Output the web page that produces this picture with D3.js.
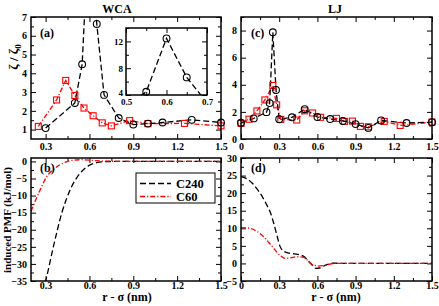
<!DOCTYPE html>
<html>
<head>
<meta charset="utf-8">
<script src="https://cdn.jsdelivr.net/npm/d3@7"></script>
<style>
  body { margin: 0; background: #fff; }
  text { font-family: "Liberation Serif", "Times New Roman", serif; font-weight: bold; }
</style>
</head>
<body>
<svg id="chart" width="439" height="306"></svg>
<script>
// friction ratio, WCA
var wcaC240X = [0.3, 0.5, 0.55, 0.6, 0.65, 0.7, 0.8, 0.9, 1.0, 1.1, 1.3, 1.5];
var wcaC240Y = [1.08, 2.42, 4.48, 12.45, 6.63, 2.85, 1.62, 1.27, 1.32, 1.38, 1.52, 1.38];
var wcaC60X = [0.25, 0.375, 0.4375, 0.5, 0.5625, 0.625, 0.6875, 0.75, 0.875, 1.0, 1.25, 1.5];
var wcaC60Y = [1.17, 2.58, 3.62, 2.82, 2.15, 1.74, 1.36, 1.2, 1.48, 1.32, 1.33, 1.2];

// friction ratio, LJ
var ljC240X = [0, 0.1, 0.2, 0.225, 0.25, 0.275, 0.3, 0.4, 0.5, 0.6, 0.7, 0.8, 0.9, 1.0, 1.1, 1.3, 1.5];
var ljC240Y = [1.2, 1.52, 1.98, 2.65, 7.87, 3.62, 1.46, 1.6, 2.2, 1.62, 1.47, 1.33, 1.1, 0.82, 1.37, 1.18, 1.24];
var ljC60X = [0, 0.0625, 0.125, 0.1875, 0.25, 0.28, 0.3125, 0.4375, 0.5, 0.5625, 0.625, 0.75, 0.8125, 0.875, 0.9375, 1.0, 1.125, 1.25, 1.5];
var ljC60Y = [1.15, 1.46, 2.07, 2.88, 3.95, 2.52, 1.45, 1.4, 2.08, 1.92, 1.6, 1.52, 1.3, 1.32, 0.93, 0.9, 1.3, 1.0, 1.25];

// induced PMF, WCA
var wcaPmfC240X = [0.28, 0.3, 0.353, 0.41, 0.467, 0.535, 0.592, 0.65, 0.7, 0.8, 1.0, 1.2, 1.5];
var wcaPmfC240Y = [-38, -35, -25, -15.2, -8.4, -3.5, -1.3, -0.35, -0.1, 0, 0, 0, 0];
var wcaPmfC60X = [0.2, 0.262, 0.307, 0.364, 0.42, 0.478, 0.55, 0.62, 0.7, 0.9, 1.2, 1.5];
var wcaPmfC60Y = [-14.6, -8.4, -4.5, -2.0, -0.5, 0.3, 0.5, 0.3, 0.1, 0, 0, 0];

// induced PMF, LJ
var ljPmfC240X = [0, 0.05, 0.089, 0.13, 0.167, 0.2, 0.233, 0.26, 0.285, 0.305, 0.324, 0.35, 0.377, 0.42, 0.469, 0.5, 0.521, 0.555, 0.587, 0.615, 0.64, 0.68, 0.717, 0.8, 1.0, 1.5];
var ljPmfC240Y = [24.7, 24, 22.8, 21, 19, 16.8, 14.3, 11, 7.6, 5, 3.8, 3.2, 2.9, 2.7, 2.4, 1.8, 1.0, -0.3, -1.4, -1.3, -0.9, -0.3, 0.1, 0, 0, 0];
var ljPmfC60X = [0, 0.05, 0.089, 0.13, 0.178, 0.21, 0.246, 0.28, 0.312, 0.351, 0.39, 0.43, 0.495, 0.52, 0.547, 0.575, 0.6, 0.666, 0.73, 0.8, 1.0, 1.5];
var ljPmfC60Y = [10.2, 10.1, 9.8, 9, 7.6, 6.3, 4.8, 3.3, 2.1, 1.45, 1.6, 1.9, 1.7, 1.0, 0, -0.5, -0.75, -0.5, 0, 0, 0, 0];

var legendNames = ["C240", "C60"];

var BLACK_DASH = "6,3";
var RED_DASH = "5,2,1.2,2";

var svg = d3.select("#chart");
var defs = svg.append("defs");

function zip(xs, ys) {
  return xs.map(function(v, i) { return [v, ys[i]]; });
}

function range(a, b, step) {
  var out = [];
  for (var i = 0; a + i * step <= b + 1e-9; i++) out.push(+(a + i * step).toFixed(4));
  return out;
}

function makePanel(opt) {
  var x = d3.scaleLinear().domain(opt.xDomain).range([opt.left, opt.right]);
  var y = d3.scaleLinear().domain(opt.yDomain).range([opt.bottom, opt.top]);
  var g = svg.append("g");

  defs.append("clipPath").attr("id", "clip-" + opt.name)
    .append("rect")
    .attr("x", opt.left).attr("y", opt.top)
    .attr("width", opt.right - opt.left).attr("height", opt.bottom - opt.top);

  if (opt.fill) {
    g.append("rect")
      .attr("x", opt.left).attr("y", opt.top)
      .attr("width", opt.right - opt.left).attr("height", opt.bottom - opt.top)
      .attr("fill", "#fff");
  }

  var fs = opt.fontSize || 10;
  var xpad = opt.xPad == null ? 4 : opt.xPad;
  var xfmt = function(d) { return d === 0 ? "0" : d3.format(".1f")(d); };

  function axis(gen, pos, values, len, labels, fmt, pad) {
    var a = gen.tickValues(values).tickSizeInner(-len).tickSizeOuter(0).tickPadding(pad == null ? 4 : pad)
      .tickFormat(labels ? fmt : "");
    var ag = g.append("g").attr("transform", pos).call(a);
    ag.select(".domain").remove();
    ag.selectAll("line").attr("stroke", "#000").attr("stroke-width", 1);
    ag.selectAll("text").attr("font-size", fs).attr("font-family", null).attr("fill", "#000");
    return ag;
  }

  var bx = "translate(0," + opt.bottom + ")", tx = "translate(0," + opt.top + ")";
  var ly = "translate(" + opt.left + ",0)", ry = "translate(" + opt.right + ",0)";
  // major
  axis(d3.axisBottom(x), bx, opt.xMajor, 5, true, xfmt, xpad);
  axis(d3.axisTop(x), tx, opt.xMajor, 5, false);
  var yAxis = axis(d3.axisLeft(y), ly, opt.yMajor, 5, true, d3.format("d"), opt.yPad);
  axis(d3.axisRight(y), ry, opt.yMajor, 5, false);
  // minor
  axis(d3.axisBottom(x), bx, opt.xMinor, 3, false);
  axis(d3.axisTop(x), tx, opt.xMinor, 3, false);
  axis(d3.axisLeft(y), ly, opt.yMinor, 3, false);
  axis(d3.axisRight(y), ry, opt.yMinor, 3, false);

  var data = g.append("g");

  g.append("rect")
    .attr("x", opt.left).attr("y", opt.top)
    .attr("width", opt.right - opt.left).attr("height", opt.bottom - opt.top)
    .attr("fill", "none").attr("stroke", "#000").attr("stroke-width", 1.5);

  return { x: x, y: y, g: g, yAxis: yAxis, data: data, name: opt.name, yDomain: opt.yDomain, xDomain: opt.xDomain };
}

function drawLine(p, pts, color, dash, curve) {
  var line = d3.line()
    .x(function(d) { return p.x(d[0]); })
    .y(function(d) { return p.y(d[1]); })
    .curve(curve || d3.curveLinear);
  p.data.append("path")
    .datum(pts)
    .attr("clip-path", "url(#clip-" + p.name + ")")
    .attr("d", line)
    .attr("fill", "none")
    .attr("stroke", color)
    .attr("stroke-width", 1.3)
    .attr("stroke-dasharray", dash);
}

function inside(p, d) {
  return d[1] >= p.yDomain[0] && d[1] <= p.yDomain[1] && d[0] >= p.xDomain[0] - 1e-9 && d[0] <= p.xDomain[1] + 1e-9;
}

function drawCircles(p, pts, r) {
  p.data.selectAll(null)
    .data(pts.filter(function(d) { return inside(p, d); }))
    .enter().append("circle")
    .attr("cx", function(d) { return p.x(d[0]); })
    .attr("cy", function(d) { return p.y(d[1]); })
    .attr("r", r || 3.4)
    .attr("fill", "none").attr("stroke", "#000").attr("stroke-width", 1.1);
}

function drawSquares(p, pts) {
  var s = 6;
  p.data.selectAll(null)
    .data(pts.filter(function(d) { return inside(p, d); }))
    .enter().append("rect")
    .attr("x", function(d) { return p.x(d[0]) - s / 2; })
    .attr("y", function(d) { return p.y(d[1]) - s / 2; })
    .attr("width", s).attr("height", s)
    .attr("fill", "none").attr("stroke", "#ff0000").attr("stroke-width", 1.1);
}

function panelLabel(txt, x, y) {
  svg.append("text").attr("x", x).attr("y", y).attr("font-size", 12).text(txt);
}

// (a) WCA friction
var pa = makePanel({
  name: "a", left: 31, right: 221, top: 17, bottom: 139,
  xDomain: [0.2, 1.5], yDomain: [0.5, 7],
  xMajor: [0.3, 0.6, 0.9, 1.2, 1.5], xMinor: range(0.45, 1.35, 0.3),
  yMajor: [1, 2, 3, 4, 5, 6, 7], yMinor: range(1.5, 6.5, 1)
});
drawLine(pa, zip(wcaC60X, wcaC60Y), "#ff0000", RED_DASH);
drawLine(pa, zip(wcaC240X, wcaC240Y), "#000", BLACK_DASH);
drawSquares(pa, zip(wcaC60X, wcaC60Y));
drawCircles(pa, zip(wcaC240X, wcaC240Y));
panelLabel("(a)", 40, 37);

// inset of (a)
var pi = makePanel({
  name: "i", left: 126, right: 207, top: 28, bottom: 95, fill: true, fontSize: 9, xPad: 4, yPad: 3,
  xDomain: [0.5, 0.7], yDomain: [4, 14],
  xMajor: [0.5, 0.6, 0.7], xMinor: [0.55, 0.65],
  yMajor: [4, 8, 12], yMinor: [6, 10, 14]
});
// lift the corner label a little so it clears "0.5"
pi.yAxis.selectAll(".tick text").filter(function(d) { return d === 4; }).attr("dy", "0.05em");
drawLine(pi, zip(wcaC240X, wcaC240Y), "#000", BLACK_DASH);
drawCircles(pi, zip(wcaC240X, wcaC240Y));

// (c) LJ friction
var pc = makePanel({
  name: "c", left: 241, right: 432, top: 17, bottom: 139,
  xDomain: [0, 1.5], yDomain: [0, 9],
  xMajor: [0, 0.3, 0.6, 0.9, 1.2, 1.5], xMinor: range(0.15, 1.35, 0.3),
  yMajor: [0, 2, 4, 6, 8], yMinor: [1, 3, 5, 7, 9]
});
drawLine(pc, zip(ljC60X, ljC60Y), "#ff0000", RED_DASH);
drawLine(pc, zip(ljC240X, ljC240Y), "#000", BLACK_DASH);
drawSquares(pc, zip(ljC60X, ljC60Y));
drawCircles(pc, zip(ljC240X, ljC240Y));
panelLabel("(c)", 251, 37);

// (b) WCA PMF
var pb = makePanel({
  name: "b", left: 31, right: 221, top: 158, bottom: 281, xPad: 1,
  xDomain: [0.2, 1.5], yDomain: [-35, 1],
  xMajor: [0.3, 0.6, 0.9, 1.2, 1.5], xMinor: range(0.45, 1.35, 0.3),
  yMajor: range(-35, 0, 5), yMinor: range(-32.5, -2.5, 5)
});
drawLine(pb, zip(wcaPmfC240X, wcaPmfC240Y), "#000", BLACK_DASH, d3.curveMonotoneX);
drawLine(pb, zip(wcaPmfC60X, wcaPmfC60Y), "#ff0000", RED_DASH, d3.curveMonotoneX);
panelLabel("(b)", 40, 172);

// legend in (b)
var lg = svg.append("g");
lg.append("rect").attr("x", 136).attr("y", 173).attr("width", 79).attr("height", 30)
  .attr("fill", "#fff").attr("stroke", "#000").attr("stroke-width", 1);
[["#000", BLACK_DASH], ["#ff0000", RED_DASH]].forEach(function(s, i) {
  var yy = 183.5 + i * 13;
  lg.append("line").attr("x1", 140).attr("x2", 171).attr("y1", yy).attr("y2", yy)
    .attr("stroke", s[0]).attr("stroke-width", 1.3).attr("stroke-dasharray", s[1]);
  lg.append("text").attr("x", 176).attr("y", yy + 4.2).attr("font-size", 12.5).text(legendNames[i]);
});

// (d) LJ PMF
var pd = makePanel({
  name: "d", left: 241, right: 432, top: 158, bottom: 281, xPad: 1,
  xDomain: [0, 1.5], yDomain: [-5, 30],
  xMajor: [0, 0.3, 0.6, 0.9, 1.2, 1.5], xMinor: range(0.15, 1.35, 0.3),
  yMajor: range(-5, 30, 5), yMinor: range(-2.5, 27.5, 5)
});
drawLine(pd, zip(ljPmfC240X, ljPmfC240Y), "#000", BLACK_DASH, d3.curveMonotoneX);
drawLine(pd, zip(ljPmfC60X, ljPmfC60Y), "#ff0000", RED_DASH, d3.curveMonotoneX);
panelLabel("(d)", 251, 172);

// titles and axis labels
svg.append("text").attr("x", 117).attr("y", 13).attr("text-anchor", "middle").attr("font-size", 12).text("WCA");
svg.append("text").attr("x", 335).attr("y", 13).attr("text-anchor", "middle").attr("font-size", 12).text("LJ");

svg.append("text").attr("x", 127).attr("y", 301).attr("text-anchor", "middle").attr("font-size", 12).text("r - σ (nm)");
svg.append("text").attr("x", 336).attr("y", 301).attr("text-anchor", "middle").attr("font-size", 12).text("r - σ (nm)");

svg.append("text").attr("transform", "translate(11,220) rotate(-90)")
  .attr("text-anchor", "middle").attr("font-size", 11).text("induced PMF (kJ/mol)");

var zl = svg.append("text").attr("transform", "translate(18,57) rotate(-90)")
  .attr("text-anchor", "middle").attr("font-size", 13).attr("font-weight", "normal");
zl.append("tspan").text("ζ / ζ");
zl.append("tspan").attr("font-size", 9).attr("dy", 3).text("0");
</script>
</body>
</html>
